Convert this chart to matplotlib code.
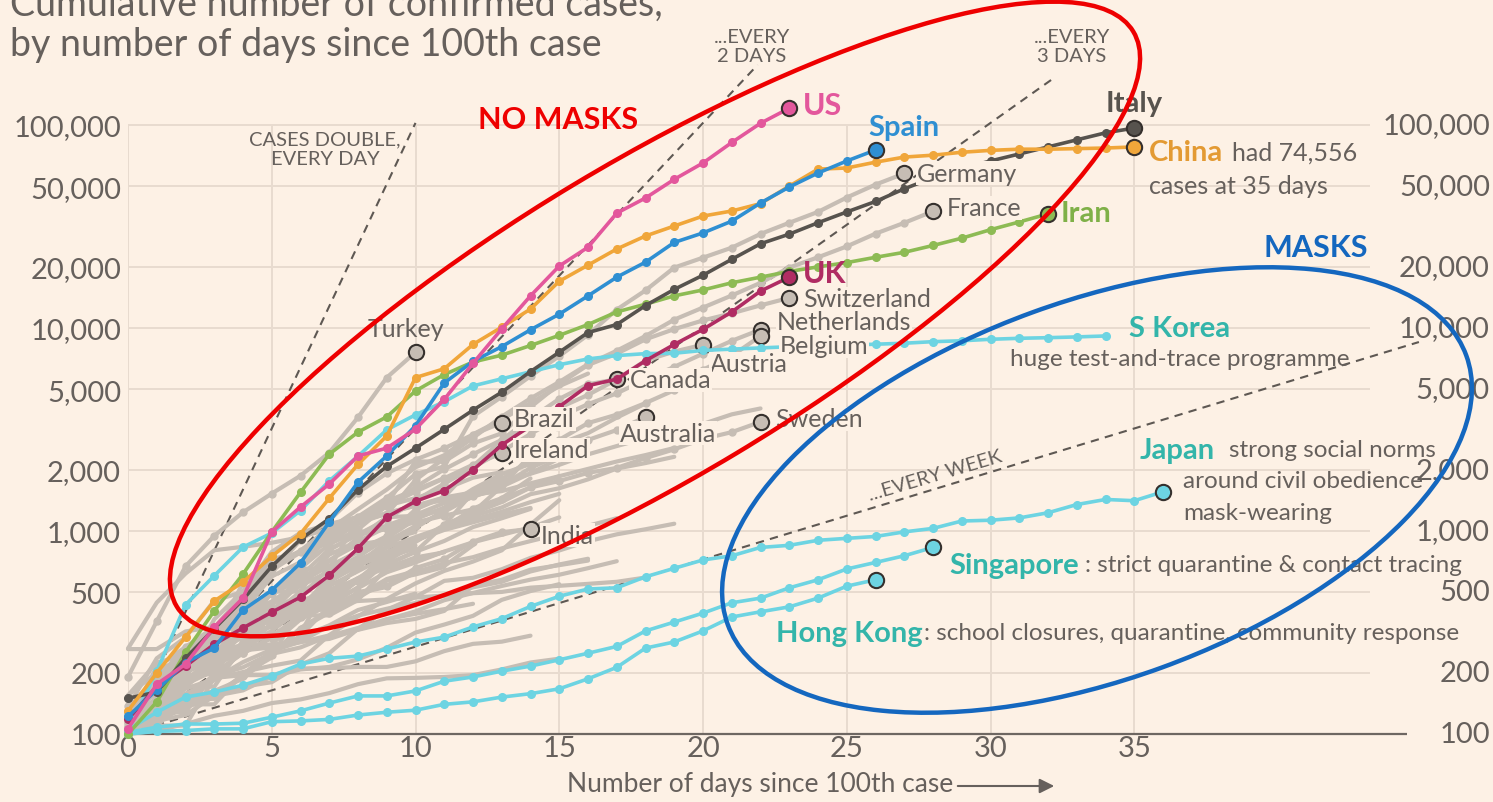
import numpy as np
import matplotlib.pyplot as plt
from matplotlib.patches import Ellipse

plt.rcParams['font.family'] = ['Lato', 'DejaVu Sans']

BG = '#fdf1e5'
INK = '#66605c'
GRID = '#e8dbcf'
GREY = '#c6bdb4'
CYAN = '#6dd4e2'
TEAL = '#33b5aa'

# cumulative confirmed cases, one value per day since the 100th case
us = [106, 176, 221, 336, 468, 990, 1313, 1703, 2343, 2560, 3176, 4450, 6700, 9900,
      14400, 20200, 25000, 36800, 43700, 54000, 65000, 82000, 102000, 121000]
spain = [122, 165, 225, 265, 408, 511, 696, 1108, 1740, 2343, 3300, 5360, 6850, 8100,
         9800, 11700, 14400, 17800, 21100, 26400, 29400, 33600, 41300, 49500, 58000,
         66500, 75300]
china = [130, 200, 300, 452, 560, 750, 970, 1450, 2130, 2940, 5700, 6300, 8300, 10100,
         12400, 17000, 20400, 24500, 28400, 31800, 35600, 37700, 41000, 50000, 60600,
         61400, 65600, 69500, 71000, 73400, 75000, 76000, 76000, 76500, 77000, 78000]
italy = [150, 161, 236, 330, 460, 670, 910, 1150, 1600, 2080, 2560, 3170, 3940, 4830,
         6100, 7600, 9500, 10400, 12900, 15500, 18200, 21800, 26000, 29000, 33000,
         37300, 42000, 48500, 55000, 61000, 66500, 72000, 78000, 84500, 91500, 96600]
iran = [100, 144, 253, 404, 613, 990, 1550, 2390, 3070, 3650, 4900, 5900, 6800, 7350,
        8200, 9200, 10400, 12000, 13100, 14400, 15400, 16700, 17800, 19000, 20000,
        21000, 22300, 23600, 25500, 27700, 30500, 33300, 36500]
uk = [118, 172, 216, 277, 333, 398, 472, 605, 822, 1170, 1400, 1580, 2000, 2650, 3300,
      4100, 5200, 5600, 6900, 8300, 9850, 12000, 15200, 17800]
s_korea = [104, 204, 433, 602, 833, 977, 1261, 1766, 2337, 3150, 3736, 4335, 5186, 5621,
           6088, 6593, 7041, 7313, 7478, 7513, 7755, 7869, 7979, 8086, 8162, 8236, 8320,
           8413, 8565, 8652, 8799, 8897, 8961, 9037, 9137]
japan = [105, 128, 152, 161, 174, 193, 221, 236, 242, 262, 284, 300, 337, 370, 425, 477,
         518, 525, 595, 655, 720, 755, 830, 850, 900, 920, 940, 990, 1030, 1120, 1130,
         1160, 1230, 1350, 1430, 1410, 1560]
singapore = [102, 108, 112, 112, 113, 121, 130, 142, 154, 154, 163, 182, 191, 204, 216,
             232, 250, 270, 322, 356, 394, 443, 467, 525, 575, 650, 700, 755, 830]
hong_kong = [100, 103, 104, 106, 106, 115, 116, 118, 124, 128, 131, 140, 144, 152, 158,
             167, 187, 213, 265, 284, 322, 377, 400, 423, 467, 535, 575]

germany = [130, 159, 196, 262, 482, 670, 799, 1040, 1176, 1457, 1908, 2078, 3675, 4585,
           5795, 7272, 9257, 12327, 15320, 19848, 22213, 24873, 29056, 32986, 37323,
           43938, 50871, 57695]
france = [100, 130, 191, 204, 285, 377, 653, 949, 1126, 1209, 1784, 2281, 2876, 3661,
          4499, 5423, 6633, 7730, 9134, 10995, 12612, 14459, 16689, 19856, 22304, 25233,
          29155, 32964, 37575]
switzerland = [114, 214, 268, 337, 374, 491, 652, 652, 1139, 1359, 2200, 2200, 2700, 3028,
               4075, 5294, 6575, 7474, 8795, 9877, 10897, 11811, 12928, 14076]
netherlands = [128, 188, 265, 321, 382, 503, 503, 806, 962, 1138, 1416, 1711, 2058, 2467,
               3003, 3640, 4216, 4764, 5580, 6438, 7468, 8647, 9819]
belgium = [109, 169, 200, 239, 267, 314, 314, 559, 689, 886, 1058, 1243, 1486, 1795, 2257,
           2815, 3401, 3743, 4269, 4937, 6235, 7284, 9134]
austria = [104, 131, 182, 246, 302, 504, 655, 860, 1018, 1332, 1646, 2013, 2388, 2814,
           3582, 4474, 5283, 5588, 6909, 7657, 8271]
canada = [108, 117, 193, 198, 252, 415, 478, 657, 800, 943, 1277, 1469, 2088, 2790, 3251,
          4042, 4682, 5576]
brazil = [121, 200, 234, 291, 428, 621, 904, 1128, 1546, 1924, 2247, 2554, 2985, 3417]
ireland = [129, 169, 223, 292, 557, 683, 785, 906, 1125, 1329, 1564, 1819, 2121, 2415]
australia = [107, 128, 128, 200, 250, 297, 377, 452, 568, 681, 791, 1071, 1549, 1682,
             2044, 2364, 2810, 3143, 3640]
sweden = [137, 161, 203, 248, 355, 500, 599, 814, 961, 1022, 1103, 1190, 1279, 1439, 1639,
          1763, 1934, 2046, 2286, 2526, 2840, 3069, 3447]
india = [113, 119, 142, 156, 194, 244, 330, 396, 499, 536, 657, 727, 887, 987, 1024]
turkey = [191, 359, 670, 947, 1236, 1529, 1872, 2433, 3629, 5698, 7600]

# unlabelled countries in the grey background
others = {
    'Portugal': [112, 169, 245, 331, 448, 642, 785, 1020, 1280, 1600, 2060, 2362, 2995, 3544, 4268, 5170, 5962],
    'Norway': [108, 147, 176, 205, 400, 598, 702, 996, 1090, 1221, 1333, 1463, 1550, 1746, 1914, 2118, 2385, 2621, 2863, 3084, 3369, 3755, 4015],
    'Denmark': [264, 444, 617, 804, 836, 875, 933, 1025, 1116, 1225, 1337, 1420, 1514, 1572, 1718, 1862, 2023, 2200, 2366, 2564],
    'Israel': [109, 131, 143, 193, 213, 250, 304, 427, 529, 705, 883, 1071, 1238, 1656, 2369, 2693, 3035, 3619, 4247],
    'Malaysia': [117, 129, 149, 149, 197, 238, 428, 566, 673, 790, 900, 1030, 1183, 1306, 1518, 1624, 1796, 2031, 2161, 2320],
    'Czechia': [116, 150, 214, 298, 383, 450, 560, 765, 889, 1047, 1161, 1287, 1472, 1654, 1925, 2279, 2631],
    'Chile': [155, 201, 238, 238, 342, 434, 537, 632, 746, 922, 1142, 1306, 1610, 1909, 2139, 2449],
    'Poland': [103, 119, 177, 238, 251, 355, 425, 536, 634, 749, 901, 1051, 1221, 1389, 1638, 1862],
    'Romania': [123, 131, 158, 184, 260, 277, 367, 433, 576, 762, 906, 1029, 1292, 1452, 1815],
    'Ecuador': [111, 168, 199, 367, 506, 789, 981, 1082, 1173, 1403, 1595, 1823, 1924],
    'Luxembourg': [130, 140, 203, 335, 484, 670, 798, 875, 1099, 1333, 1453, 1605, 1831, 1950],
    'Pakistan': [136, 236, 299, 454, 501, 730, 776, 875, 972, 1063, 1201, 1373, 1495, 1597],
    'Philippines': [111, 140, 142, 187, 202, 217, 230, 307, 380, 462, 552, 636, 707, 803, 1075, 1418],
    'Thailand': [114, 147, 177, 212, 272, 322, 411, 599, 721, 827, 934, 1045, 1136, 1245, 1388, 1524],
    'Saudi Arabia': [103, 118, 171, 171, 274, 344, 392, 511, 562, 767, 900, 1012, 1104, 1203, 1299],
    'Indonesia': [117, 134, 172, 227, 311, 369, 450, 514, 579, 686, 790, 893, 1046, 1155, 1285],
    'Finland': [155, 225, 244, 277, 321, 336, 400, 450, 523, 626, 700, 792, 880, 958, 1041, 1167],
    'Greece': [117, 190, 228, 331, 331, 387, 418, 418, 495, 530, 624, 695, 743, 821, 892, 966, 1061, 1156],
    'Iceland': [109, 117, 134, 156, 171, 180, 220, 250, 330, 409, 473, 568, 588, 648, 737, 802, 890, 963, 1020, 1086],
    'South Africa': [116, 150, 202, 240, 274, 402, 554, 709, 927, 1170, 1187, 1280],
    'Mexico': [118, 164, 203, 251, 316, 367, 405, 475, 585, 717, 848],
    'Qatar': [262, 262, 320, 337, 401, 401, 439, 439, 452, 460, 470, 481, 494, 501, 526, 537, 549, 562, 590],
    'Bahrain': [109, 110, 110, 189, 195, 195, 210, 211, 214, 214, 228, 256, 278, 285, 305],
    'Egypt': [109, 110, 150, 196, 196, 256, 285, 294, 327, 366, 402, 456, 495, 536, 576, 609, 656, 710],
    'Iraq': [110, 116, 124, 154, 164, 192, 208, 214, 233, 266, 316, 346, 382, 458, 506, 547],
    'UAE': [113, 113, 140, 140, 198, 248, 333, 405, 468, 570, 611, 664],
    'Estonia': [115, 171, 205, 225, 258, 267, 283, 306, 326, 352, 369, 404, 538, 575, 645, 679, 715],
    'Slovenia': [141, 181, 219, 253, 275, 275, 286, 341, 383, 414, 442, 480, 528, 562, 632, 684, 730],
    'Russia': [114, 147, 199, 253, 306, 367, 438, 495, 658, 840, 1036, 1264, 1534, 1836],
    'Peru': [117, 145, 234, 234, 318, 363, 395, 416, 480, 580, 635, 671, 852],
    'Argentina': [128, 158, 266, 301, 387, 387, 502, 589, 690, 745, 820],
    'Croatia': [105, 128, 206, 254, 315, 382, 442, 495, 586, 657, 713, 790],
    'Serbia': [103, 135, 171, 222, 249, 303, 384, 384, 457, 659, 741, 785],
    'Panama': [109, 137, 200, 313, 345, 443, 558, 674, 786, 901, 989],
    'Dominican Rep.': [112, 202, 245, 312, 392, 488, 581, 719, 859, 901],
    'Hungary': [103, 131, 167, 187, 226, 261, 300, 343, 408, 447, 492],
    'Kuwait': [100, 104, 112, 123, 130, 142, 148, 159, 176, 188, 189, 191, 195, 208, 225, 235],
    'Lebanon': [109, 124, 149, 163, 187, 248, 267, 304, 333, 368, 391, 412, 438],
}

# doubling-time guide lines
double_every = [1, 2, 3, 7]
guide_end = [10, 21.9, 32.2, 44.9]

yticks = [100, 200, 500, 1000, 2000, 5000, 10000, 20000, 50000, 100000]

W, H = 1493, 803
fig = plt.figure(figsize=(W / 100, H / 100), dpi=100, facecolor=BG)
ax = fig.add_axes([128 / W, (H - 735) / H, 1280 / W, 715 / H])
ax.set_facecolor(BG)
ax.set_yscale('log')
ax.set_xlim(0, 44.52)
ax.set_ylim(100, 100 * 10 ** (715 / 203))
for s in ax.spines.values():
    s.set_visible(False)

ylabels = [f'{v:,}' for v in yticks]
ax.set_yticks(yticks, ylabels)
ax.yaxis.set_minor_locator(plt.NullLocator())
ax.set_xticks(range(0, 36, 5))
ax.tick_params(length=0, labelsize=21, colors=INK, pad=5)
ax.tick_params(axis='x', pad=1)
for v, s in zip(yticks, ylabels):
    ax.text(1.064, v, s, transform=ax.get_yaxis_transform(), ha='right', va='center',
            fontsize=21, color=INK)

ax.vlines(range(0, 36, 5), 100, 100000, color=GRID, lw=1.4, zorder=0)
ax.hlines(yticks[1:], 0, 43.2, color=GRID, lw=1.4, zorder=0)
ax.hlines(100, 0, 44.5, color='#6e6762', lw=1.6, zorder=1, clip_on=False)

for dt, end in zip(double_every, guide_end):
    d = np.array([0, end])
    ax.plot(d, 100 * 2 ** (d / dt), ls=(0, (4, 3)), color='#5e5853', lw=1.5, zorder=1,
            clip_on=False)


def draw(vals, color, lw=2.6, ms=5.5, end=True, dots=True, z=3):
    d = np.arange(len(vals))
    ax.plot(d, vals, color=color, lw=lw, marker='o' if dots else None, ms=ms, zorder=z,
            solid_joinstyle='round', solid_capstyle='round', clip_on=False)
    if end:
        ax.plot(d[-1], vals[-1], 'o', ms=11, mfc=color, mec='#35302d', mew=1.5,
                zorder=z + 0.1, clip_on=False)


for vals in others.values():
    draw(vals, GREY, lw=3, end=False, dots=False, z=2)
for vals in [germany, france, switzerland, netherlands, belgium, austria, canada, brazil,
             ireland, australia, sweden, india, turkey]:
    draw(vals, GREY, lw=3, ms=5, z=2.2)

draw(s_korea, CYAN, end=False, z=3)
draw(japan, CYAN, z=3)
draw(singapore, CYAN, z=3)
draw(hong_kong, CYAN, z=3)

draw(iran, '#8dbb54', z=4)
draw(uk, '#b02c63', z=4)
draw(italy, '#57534e', z=4)
draw(china, '#f0a63a', z=4)
draw(spain, '#2f8fd2', z=4)
draw(us, '#e3579c', z=4)


def label(x, y, s, color=INK, size=18, bold=False, ha='left', bg=False):
    ax.text(x / W, 1 - y / H, s, transform=fig.transFigure, ha=ha, va='center',
            color=color, fontsize=size, fontweight='bold' if bold else 'normal', zorder=6,
            bbox=dict(fc=BG, ec='none', pad=0.6) if bg else None)


label(325, 150, 'CASES DOUBLE,\nEVERY DAY', size=14.5, ha='center')
label(752, 47, '...EVERY\n2 DAYS', size=14.5, ha='center')
label(1072, 47, '...EVERY\n3 DAYS', size=14.5, ha='center')
ax.text(935 / W, 1 - 476 / H, '...EVERY WEEK', transform=fig.transFigure, ha='center',
        va='center', rotation=16.5, fontsize=14.5, color=INK, zorder=6)

label(803, 106, 'US', '#e3579c', 22, True)
label(868, 128, 'Spain', '#2f8fd2', 21, True)
label(1134, 104, 'Italy', '#57534e', 21, True, ha='center')
label(1149, 153, 'China', '#e39a33', 21, True)
label(1232, 153, 'had 74,556')
label(1149, 186, 'cases at 35 days')
label(917, 174, 'Germany', bg=True)
label(947, 209, 'France', bg=True)
label(1061, 214, 'Iran', '#7fb048', 21, True)
label(803, 274, 'UK', '#b02c63', 22, True)
label(803, 300, 'Switzerland', bg=True)
label(777, 323, 'Netherlands', bg=True)
label(780, 347, 'Belgium', bg=True)
label(710, 365, 'Austria', bg=True)
label(630, 381, 'Canada', bg=True)
label(514, 420, 'Brazil', bg=True)
label(620, 434, 'Australia', bg=True)
label(514, 451, 'Ireland', bg=True)
label(775, 420, 'Sweden', bg=True)
label(541, 536, 'India', bg=True)
label(406, 330, 'Turkey', ha='center')

label(1129, 329, 'S Korea', TEAL, 21, True)
label(1010, 360, 'huge test-and-trace programme', size=17.5)
label(1140, 451, 'Japan', TEAL, 21, True)
label(1229, 451, 'strong social norms', size=17.5)
label(1183, 482, 'around civil obedience', size=17.5)
label(1183, 513, 'mask-wearing', size=17.5)
label(949, 566, 'Singapore', TEAL, 21, True)
label(1085, 566, ': strict quarantine & contact tracing', size=17.5)
label(776, 634, 'Hong Kong', TEAL, 21, True)
label(924, 634, ': school closures, quarantine, community response', size=17.5)

label(558, 120, 'NO MASKS', '#ee0000', 22, True, ha='center')
label(1316, 248, 'MASKS', '#1467bf', 22, True, ha='center')


def oval(cx, cy, a, b, ang, color):
    ax.add_patch(Ellipse((cx / 100, (H - cy) / 100), 2 * a / 100, 2 * b / 100, angle=ang,
                         transform=fig.dpi_scale_trans, fill=False, ec=color, lw=3.2,
                         zorder=8, clip_on=False))


oval(655, 320, 558, 157, 31, '#ee0000')
oval(1097, 491, 393, 189, 20, '#1467bf')

fig.text(10 / W, 1 - 16 / H, 'Cumulative number of confirmed cases,', fontsize=27,
         color=INK, va='baseline')
fig.text(10 / W, 1 - 56 / H, 'by number of days since 100th case', fontsize=27,
         color=INK, va='baseline')
fig.text(760 / W, 1 - 785 / H, 'Number of days since 100th case', ha='center',
         va='center', fontsize=19, color=INK)
ax.annotate('', xy=(1057 / W, 1 - 787 / H), xytext=(955 / W, 1 - 787 / H),
            xycoords='figure fraction',
            arrowprops=dict(arrowstyle='-|>', color=INK, lw=1.5, mutation_scale=22),
            annotation_clip=False)

fig.savefig('out.png', dpi=100, facecolor=BG)
